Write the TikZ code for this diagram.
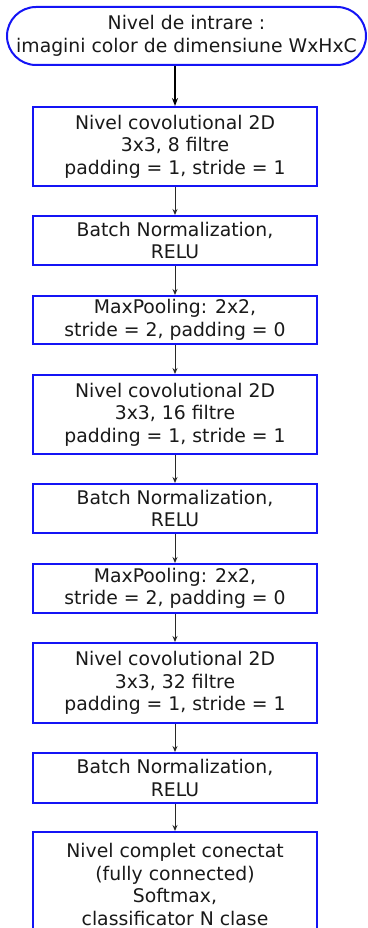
\documentclass[tikz,border=0pt]{standalone}
\usepackage{fontspec}
\setmainfont{DejaVu Sans}
\usetikzlibrary{arrows.meta}
\definecolor{boxblue}{RGB}{20,20,245}
\definecolor{inktext}{RGB}{25,25,25}
\definecolor{flowgray}{RGB}{40,40,40}
\tikzset{
  stage/.style={draw=boxblue, line width=2pt, minimum width=284pt, align=center,
    text=inktext, inner sep=0pt, font=\fontsize{18.8}{22.5}\selectfont},
  terminal/.style={draw=boxblue, line width=2pt, rounded corners=29pt, minimum width=359pt,
    minimum height=58pt, align=center, text=inktext, inner sep=0pt,
    font=\fontsize{18.8}{22.5}\selectfont},
  flow/.style={draw=flowgray, line width=1pt, -{Stealth[length=6pt,width=5pt]}},
  mainflow/.style={draw=black, line width=1.6pt, -{Stealth[length=8pt,width=6pt]}}
}
\begin{document}
\begin{tikzpicture}[x=1pt,y=-1pt]
\useasboundingbox (0,0) rectangle (367,928);
\clip (0,0) rectangle (367,928);
\node[terminal] (input) at (186.5,36) {Nivel de intrare :\\imagini color de dimensiune WxHxC};
\node[stage, minimum height=79pt] (conv1) at (175,146.5) {Nivel covolutional 2D\\3x3, 8 filtre\\padding = 1, stride = 1};
\node[stage, minimum height=49pt] (bn1) at (175,240.5) {Batch Normalization,\\RELU};
\node[stage, minimum height=48pt] (pool1) at (175,320) {MaxPooling: 2x2,\\stride = 2, padding = 0};
\node[stage, minimum height=79pt] (conv2) at (175,414.5) {Nivel covolutional 2D\\3x3, 16 filtre\\padding = 1, stride = 1};
\node[stage, minimum height=49pt] (bn2) at (175,508.5) {Batch Normalization,\\RELU};
\node[stage, minimum height=49pt] (pool2) at (175,588.5) {MaxPooling: 2x2,\\stride = 2, padding = 0};
\node[stage, minimum height=80pt] (conv3) at (175,683) {Nivel covolutional 2D\\3x3, 32 filtre\\padding = 1, stride = 1};
\node[stage, minimum height=50pt] (bn3) at (175,778) {Batch Normalization,\\RELU};
\node[stage, minimum height=105pt] (fc) at (175,884.5) {Nivel complet conectat\\(fully connected)\\Softmax,\\classificator N clase};
\draw[mainflow] (input.south -| conv1.north) -- (conv1.north);
\draw[flow] (conv1) -- (bn1);
\draw[flow] (bn1) -- (pool1);
\draw[flow] (pool1) -- (conv2);
\draw[flow] (conv2) -- (bn2);
\draw[flow] (bn2) -- (pool2);
\draw[flow] (pool2) -- (conv3);
\draw[flow] (conv3) -- (bn3);
\draw[flow] (bn3) -- (fc);
\end{tikzpicture}
\end{document}
